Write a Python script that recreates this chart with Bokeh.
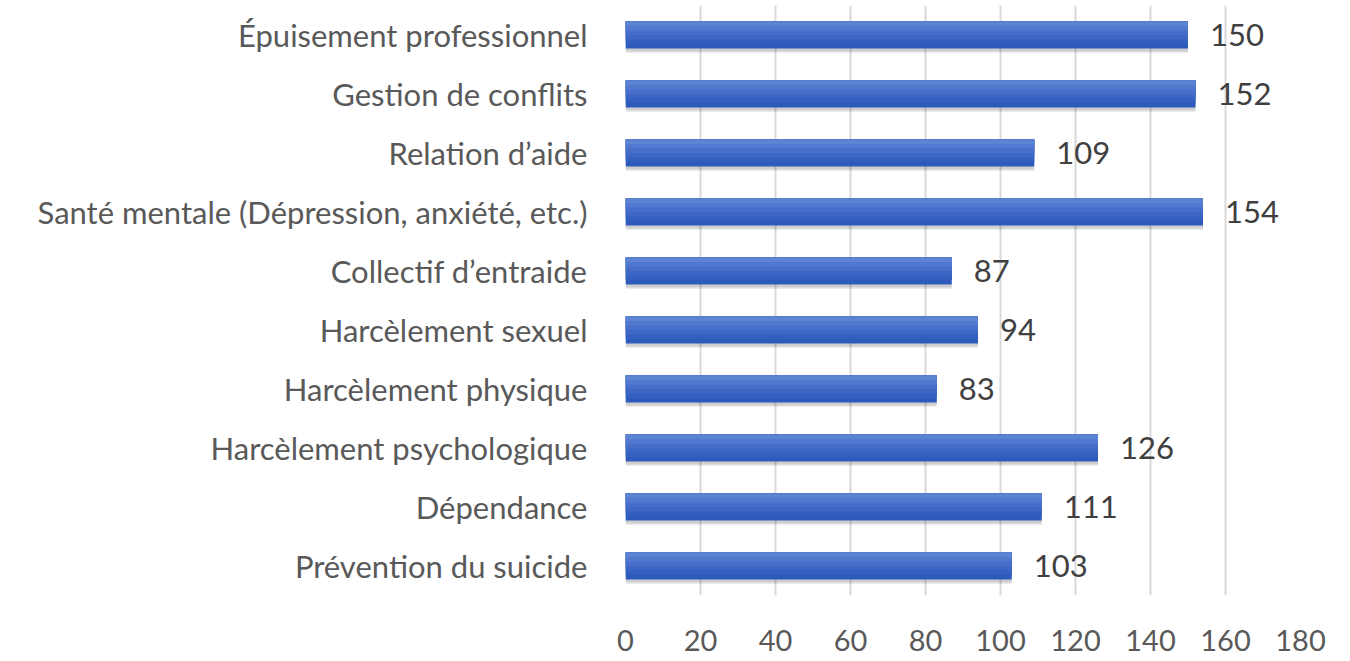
from bokeh.plotting import figure
from bokeh.models import ColumnDataSource, FactorRange, Range1d, FixedTicker
from bokeh.transform import dodge
from bokeh.core.properties import value
from bokeh.embed import file_html
from bokeh.resources import INLINE

categories = [
    "Épuisement professionnel",
    "Gestion de conflits",
    "Relation d’aide",
    "Santé mentale (Dépression, anxiété, etc.)",
    "Collectif d’entraide",
    "Harcèlement sexuel",
    "Harcèlement physique",
    "Harcèlement psychologique",
    "Dépendance",
    "Prévention du suicide",
]
counts = [150, 152, 109, 154, 87, 94, 83, 126, 111, 103]
x_ticks = [0, 20, 40, 60, 80, 100, 120, 140, 160, 180]

FONT = "Lato"

src = ColumnDataSource(dict(cat=categories, val=counts, lbl=[str(v) for v in counts]))

p = figure(
    width=1334, height=658,
    y_range=FactorRange(factors=list(reversed(categories))),
    x_range=Range1d(0, 180),
    output_backend="svg", toolbar_location=None,
    min_border_left=625, min_border_right=34, min_border_top=5, min_border_bottom=63,
)
p.outline_line_color = None
p.background_fill_color = "white"

H = 0.46
# shadow
p.hbar(y=dodge("cat", -0.075, range=p.y_range), left=0, right="val", height=H,
       source=src, fill_color="#000000", fill_alpha=0.08, line_color=None)
p.hbar(y=dodge("cat", -0.05, range=p.y_range), left=0, right="val", height=H,
       source=src, fill_color="#000000", fill_alpha=0.12, line_color=None)

# gradient bars: darkest full bar, lighter layers anchored at top
strip_colors = ["#2e5bbb", "#3360c0", "#3d66c5", "#476fca", "#5279cf", "#5d83d3"]
n = len(strip_colors)
for i, c in enumerate(strip_colors):
    hh = H * (n - i) / n
    off = H / 2 - hh / 2
    p.hbar(y=dodge("cat", off, range=p.y_range), left=0, right="val", height=hh,
           source=src, fill_color=c, line_color=None)

p.text(x="val", y="cat", text="lbl", source=src, x_offset=22,
       text_baseline="middle", text_align="left",
       text_font=value(FONT), text_font_size="31px", text_color="#404040")

p.xaxis.ticker = FixedTicker(ticks=x_ticks)
p.xgrid.ticker = FixedTicker(ticks=x_ticks)
p.xgrid.grid_line_color = "#d9d9d9"
p.xgrid.grid_line_width = 2
p.ygrid.grid_line_color = None

for ax in (p.xaxis, p.yaxis):
    ax.axis_line_color = None
    ax.major_tick_line_color = None
    ax.minor_tick_line_color = None
    ax.major_label_text_font = FONT
    ax.major_label_text_color = "#595959"

p.xaxis.major_label_text_font_size = "29px"
p.yaxis.major_label_text_font_size = "31px"
p.xaxis.major_label_standoff = 28
p.yaxis.major_label_standoff = 32

open("out.html", "w").write(file_html(p, INLINE))
